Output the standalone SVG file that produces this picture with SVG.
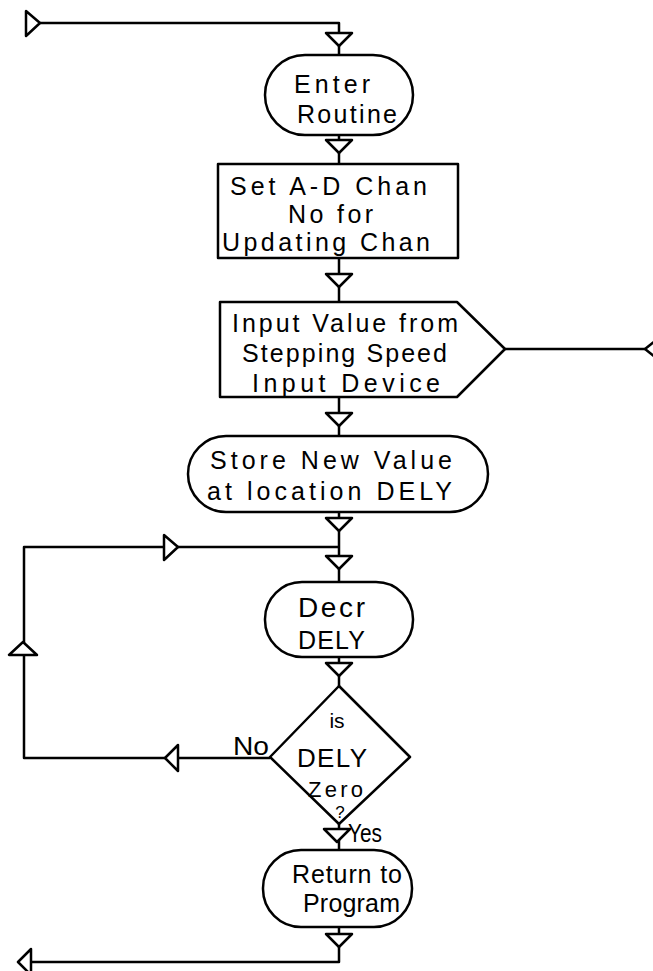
<svg xmlns="http://www.w3.org/2000/svg" width="653" height="971" viewBox="0 0 653 971">
<style>
.s{fill:none;stroke:#000;stroke-width:2.5;stroke-linejoin:round}
.n{fill:#fff;stroke:#000;stroke-width:2.5;stroke-linejoin:round}
.t{font-family:"Liberation Sans",Arial,sans-serif;font-size:25px;fill:#000}
.l{font-family:"Liberation Sans",Arial,sans-serif;font-size:26px;fill:#000}
</style>
<defs>
<polygon id="dn" points="-13,0 13,0 0,13" class="n"/>
</defs>
<rect width="653" height="971" fill="#fff"/>
<g id="connectors">
<polyline class="s" points="40,23 339,23 339,55"/>
<line class="s" x1="339" y1="135" x2="339" y2="164"/>
<line class="s" x1="339" y1="258" x2="339" y2="302"/>
<line class="s" x1="339" y1="397" x2="339" y2="436"/>
<line class="s" x1="339" y1="512" x2="339" y2="582"/>
<line class="s" x1="505" y1="349" x2="645" y2="349"/>
<polyline class="s" points="339,547 24,547 24,758 270,758"/>
<line class="s" x1="339" y1="657" x2="339" y2="686"/>
<line class="s" x1="339" y1="824" x2="339" y2="850"/>
<polyline class="s" points="339,927 339,962 31,962"/>
<polygon class="n" points="26,11 26,36 40,23"/>
<use href="#dn" x="339" y="33"/>
<use href="#dn" x="339" y="140"/>
<use href="#dn" x="339" y="274"/>
<use href="#dn" x="339" y="413"/>
<use href="#dn" x="339" y="518"/>
<use href="#dn" x="339" y="556"/>
<use href="#dn" x="339" y="663"/>
<use href="#dn" x="337" y="829"/>
<use href="#dn" x="339" y="934"/>
<polygon class="n" points="164,535 164,560 178,547"/>
<polygon class="n" points="9,655 37,655 23,642"/>
<polygon class="n" points="178,745 178,771 165,758"/>
<polygon class="n" points="645,349 660,337 660,361"/>
<polygon class="n" points="31,949 31,975 18,962"/>
<text class="l" x="233" y="755" textLength="36" lengthAdjust="spacingAndGlyphs">No</text>
<text class="l" x="348" y="842" textLength="34" lengthAdjust="spacingAndGlyphs">Yes</text>
</g>
<g id="enter">
<rect class="n" x="265" y="55" width="148" height="80" rx="40"/>
<text class="t" x="294" y="93" textLength="76" lengthAdjust="spacing">Enter</text>
<text class="t" x="297" y="123" textLength="100" lengthAdjust="spacing">Routine</text>
</g>
<g id="setchan">
<rect class="n" x="218" y="164" width="240" height="94"/>
<text class="t" x="230" y="195" textLength="197" lengthAdjust="spacing">Set  A-D Chan</text>
<text class="t" x="288" y="223" textLength="85" lengthAdjust="spacing">No for</text>
<text class="t" x="222" y="251" textLength="208" lengthAdjust="spacing">Updating  Chan</text>
</g>
<g id="input">
<polygon class="n" points="220,302 457,302 505,349 457,397 220,397"/>
<text class="t" x="232" y="332" textLength="226" lengthAdjust="spacing">Input Value from</text>
<text class="t" x="242" y="362" textLength="205" lengthAdjust="spacing">Stepping Speed</text>
<text class="t" x="252" y="392" textLength="188" lengthAdjust="spacing">Input  Device</text>
</g>
<g id="store">
<rect class="n" x="188" y="436" width="300" height="76" rx="38"/>
<text class="t" x="210" y="469" textLength="242" lengthAdjust="spacing">Store New  Value</text>
<text class="t" x="207" y="500" textLength="245" lengthAdjust="spacing">at location  DELY</text>
</g>
<g id="decr">
<rect class="n" x="265" y="582" width="148" height="75" rx="37"/>
<text class="t" x="298" y="617" textLength="67" lengthAdjust="spacing" style="font-size:28px">Decr</text>
<text class="t" x="298" y="649" textLength="67" lengthAdjust="spacing" style="font-size:25px">DELY</text>
</g>
<g id="zero">
<polygon class="n" points="339,686 410,757 339,824 270,757"/>
<text class="t" x="337" y="728" text-anchor="middle" style="font-size:21px">is</text>
<text class="t" x="297" y="767" textLength="70" lengthAdjust="spacing" style="font-size:26px">DELY</text>
<text class="t" x="308" y="797" textLength="55" lengthAdjust="spacing" style="font-size:22px">Zero</text>
<text class="t" x="340" y="818" text-anchor="middle" style="font-size:17px">?</text>
</g>
<g id="return">
<rect class="n" x="263" y="850" width="149" height="77" rx="38"/>
<text class="t" x="292" y="883" textLength="110" lengthAdjust="spacing">Return to</text>
<text class="t" x="303" y="912" textLength="97" lengthAdjust="spacing">Program</text>
</g>
</svg>
